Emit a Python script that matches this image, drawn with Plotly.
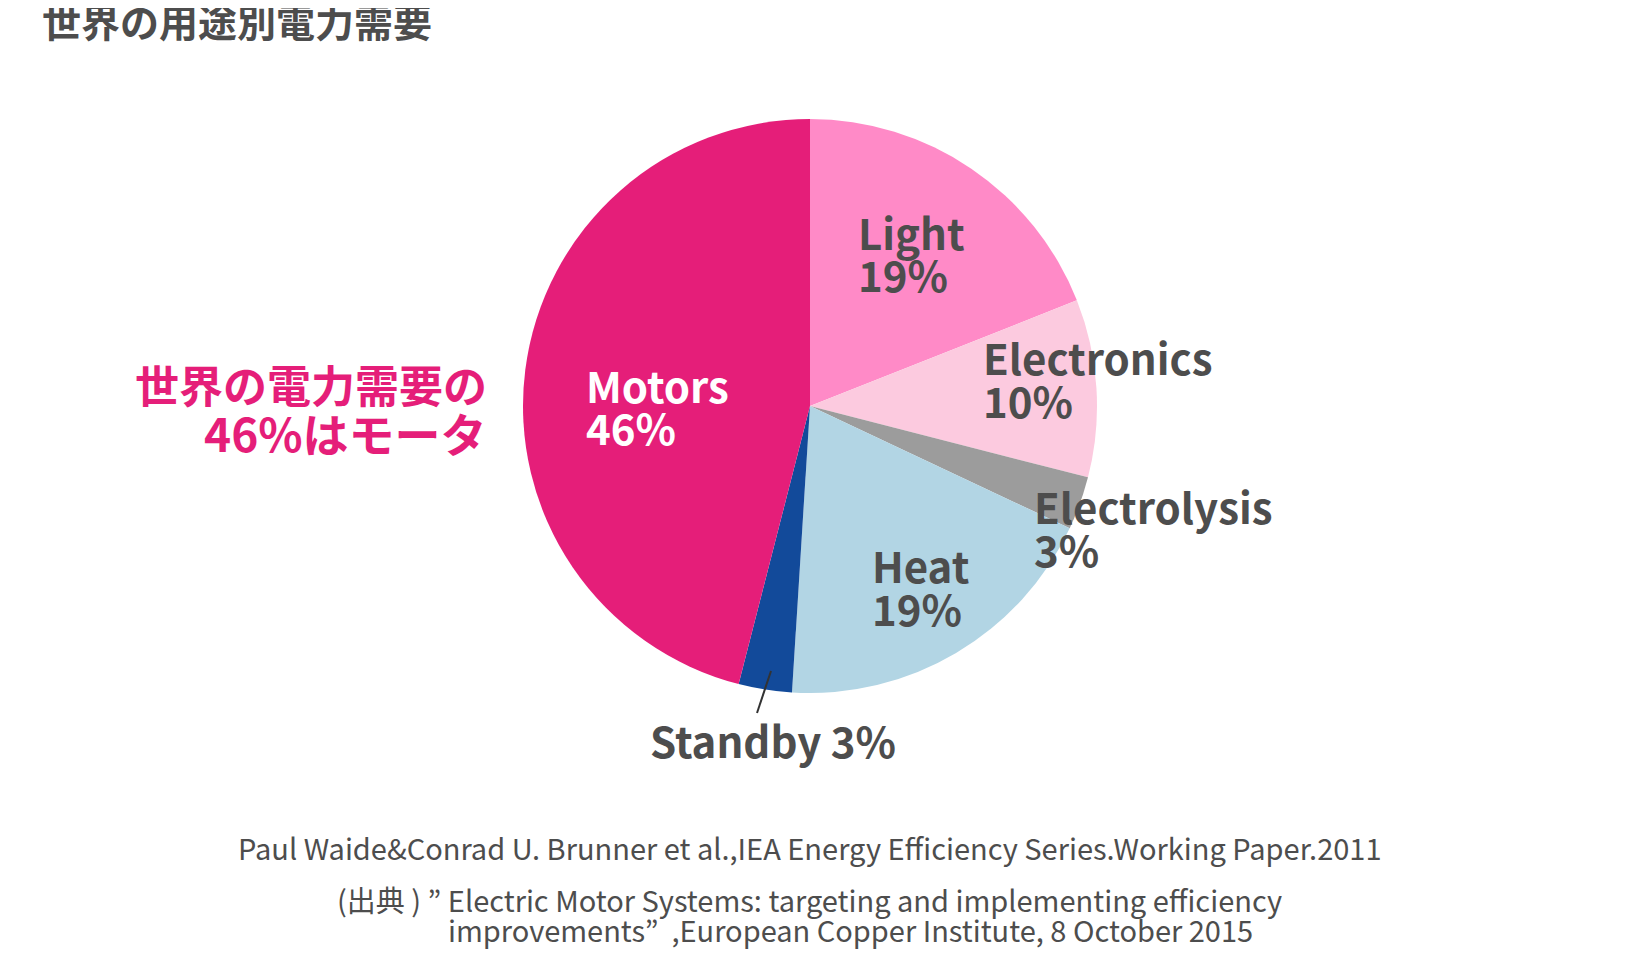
import plotly.graph_objects as go

# Data
categories = ["Light", "Electronics", "Electrolysis", "Heat", "Standby", "Motors"]
shares = [19, 10, 3, 19, 3, 46]
colors = ["#FF8AC7", "#FCCADF", "#9C9C9C", "#B2D5E4", "#124A9A", "#E51E79"]

W, H = 1640, 973
OFF = 8  # page body margin offset
CX, CY, R = 810, 406, 287

def px(x):
    return (x - OFF) / W

def py(y):
    return 1 - (y - OFF) / H

fig = go.Figure(go.Pie(
    labels=categories,
    values=shares,
    sort=False,
    direction="clockwise",
    rotation=0,
    marker=dict(colors=colors, line=dict(width=0)),
    textinfo="none",
    hoverinfo="label+percent",
    showlegend=False,
    domain=dict(x=[px(CX - R), px(CX + R)], y=[py(CY + R), py(CY - R)]),
))

DARK = "#4D4D4D"
PINK = "#E51E79"
FONT = "Noto Sans CJK JP"
ann = []

def add(text, x, y, size, color=DARK, xanchor="left", weight="bold", yanchor="middle"):
    ann.append(dict(text=text, x=px(x), y=py(y), xref="paper", yref="paper",
                    xanchor=xanchor, yanchor=yanchor, showarrow=False,
                    font=dict(family=FONT, size=size, color=color, weight=weight)))

LBL = 42
# slice labels (name, percentage)
label_pos = {
    "Light": (856, 231, 273),
    "Electronics": (981, 357, 400),
    "Electrolysis": (1032, 505, 548),
    "Heat": (870, 564, 607),
    "Motors": (584, 384, 426),
}
for cat, val in zip(categories, shares):
    if cat in label_pos:
        x, y1, y2 = label_pos[cat]
        c = "white" if cat == "Motors" else DARK
        add(cat, x, y1, LBL, c)
        add(f"{val}%", x, y2, LBL, c)

add(f"Standby {shares[4]}%", 648, 739, LBL)

# title
add("世界の用途別電力需要", 40, 20, 39)
# side note
add("世界の電力需要の", 489, 384, 44, PINK, xanchor="right")
add("46%はモータ", 489, 432, 46, PINK, xanchor="right")

# sources
SRC = 29
add("Paul Waide&Conrad U. Brunner et al.,IEA Energy Efficiency Series.Working Paper.2011",
    810, 847, SRC, DARK, xanchor="center", weight="normal")
add("(出典 ) ” Electric Motor Systems: targeting and implementing efficiency",
    335, 899, SRC, DARK, weight="normal")
add("improvements”  ,European Copper Institute, 8 October 2015",
    446, 929, SRC, DARK, weight="normal")

fig.update_layout(
    width=W, height=H,
    margin=dict(l=0, r=0, t=0, b=0),
    paper_bgcolor="white",
    plot_bgcolor="white",
    annotations=ann,
    shapes=[dict(type="line", xref="paper", yref="paper",
                 x0=px(771), y0=py(671), x1=px(757), y1=py(713),
                 line=dict(color="#333333", width=2))],
)

fig.write_html("out.html")
